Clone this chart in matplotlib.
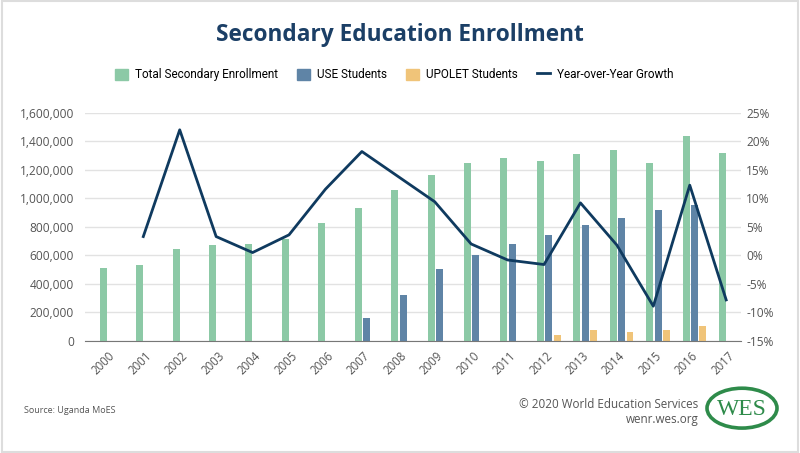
import numpy as np
import matplotlib
matplotlib.use("Agg")
import matplotlib.pyplot as plt
from matplotlib.patches import Ellipse, Rectangle
from matplotlib.lines import Line2D
from matplotlib.ticker import FuncFormatter

years = [str(y) for y in range(2000, 2018)]
total = [510000, 530000, 645000, 670000, 680000, 715000, 825000, 935000, 1060000,
         1165000, 1250000, 1285000, 1265000, 1310000, 1340000, 1250000, 1435000, 1315000]
use = [0, 0, 0, 0, 0, 0, 0, 160000, 325000,
       505000, 600000, 680000, 745000, 815000, 860000, 920000, 955000, 0]
upolet = [0, 0, 0, 0, 0, 0, 0, 0, 0,
          0, 0, 0, 42000, 75000, 65000, 80000, 105000, 0]
growth = [np.nan, 3.3, 22.0, 3.3, 0.5, 3.6, 11.6, 18.2, 13.8,
          9.4, 2.0, -0.8, -1.6, 9.2, 1.8, -8.9, 12.3, -7.8]

GREEN = "#8cc9a6"
BLUE = "#5f84a6"
GOLD = "#f0c479"
NAVY = "#0f3a5f"
GRAY = "#555555"

plt.rcParams['font.family'] = ['Open Sans', 'DejaVu Sans']

fig = plt.figure(figsize=(8, 4.53), dpi=100)
fig.patches.append(Rectangle((0.002, 0.002), 0.996, 0.996, transform=fig.transFigure,
                             fill=False, edgecolor="#dddddd", linewidth=1.5))

ax = fig.add_axes([0.10625, 0.2472, 0.8197, 0.504])
x = np.arange(len(years))
w = 0.19
ax.bar(x, total, width=w, color=GREEN, zorder=2)
ax.bar(x + 0.23, use, width=w, color=BLUE, zorder=2)
ax.bar(x + 0.46, upolet, width=w, color=GOLD, zorder=2)

ax.set_xlim(-0.5, len(years) - 0.5)
ax.set_ylim(0, 1600000)
ax.set_yticks(np.arange(0, 1600001, 200000))
ax.yaxis.set_major_formatter(FuncFormatter(lambda v, p: f"{int(v):,}"))
ax.grid(axis="y", color="#e2e2e2", linewidth=1, zorder=0)
for s in ["top", "right", "left"]:
    ax.spines[s].set_visible(False)
ax.spines["bottom"].set_color("#777777")
ax.tick_params(axis="y", length=0, labelsize=8.6, labelcolor=GRAY, pad=8)
ax.set_xticks(x + 0.14)
ax.set_xticklabels(years, rotation=45, ha="right", rotation_mode="anchor",
                   fontsize=8.3, color=GRAY)
ax.tick_params(axis="x", length=0, pad=6)

ax2 = ax.twinx()
ax2.plot(x + 0.1, growth, color=NAVY, linewidth=2, zorder=3)
ax2.set_ylim(-15, 25)
ax2.set_yticks(np.arange(-15, 26, 5))
ax2.yaxis.set_major_formatter(FuncFormatter(lambda v, p: f"{int(v)}%"))
for s in ["top", "right", "left", "bottom"]:
    ax2.spines[s].set_visible(False)
ax2.tick_params(axis="y", length=0, labelsize=8.6, labelcolor=GRAY, pad=4)

fig.text(0.5, 0.922, "Secondary Education Enrollment", ha="center", va="center",
         fontsize=16.3, fontweight="bold", color="#1b3f66")

handles = [Rectangle((0, 0), 1, 1, color=GREEN),
           Rectangle((0, 0), 1, 1, color=BLUE),
           Rectangle((0, 0), 1, 1, color=GOLD),
           Line2D([0], [0], color=NAVY, linewidth=2)]
labels = ["Total Secondary Enrollment", "USE Students", "UPOLET Students", "Year-over-Year Growth"]
fig.legend(handles, labels, loc="center", bbox_to_anchor=(0.493, 0.835), ncol=4,
           frameon=False, prop={"family": "Roboto", "size": 8.5}, handlelength=1.1,
           handleheight=1.1, columnspacing=1.6, handletextpad=0.6)

fig.text(0.03, 0.094, "Source: Uganda MoES", fontsize=6.5, color=GRAY, va="center")
fig.text(0.873, 0.106, "\u00a9 2020 World Education Services", fontsize=8.4, color=GRAY,
         ha="right", va="center")
fig.text(0.873, 0.074, "wenr.wes.org", fontsize=8.4, color=GRAY, ha="right", va="center")

fig.patches.append(Ellipse((0.9275, 0.099), 0.0875, 0.088, transform=fig.transFigure,
                           fill=False, edgecolor="#2e8b4a", linewidth=2.6))
fig.text(0.9275, 0.097, "WES", fontsize=17, color="#2e8b4a", ha="center", va="center",
         family="Liberation Serif")

fig.savefig("out.png", dpi=100)
